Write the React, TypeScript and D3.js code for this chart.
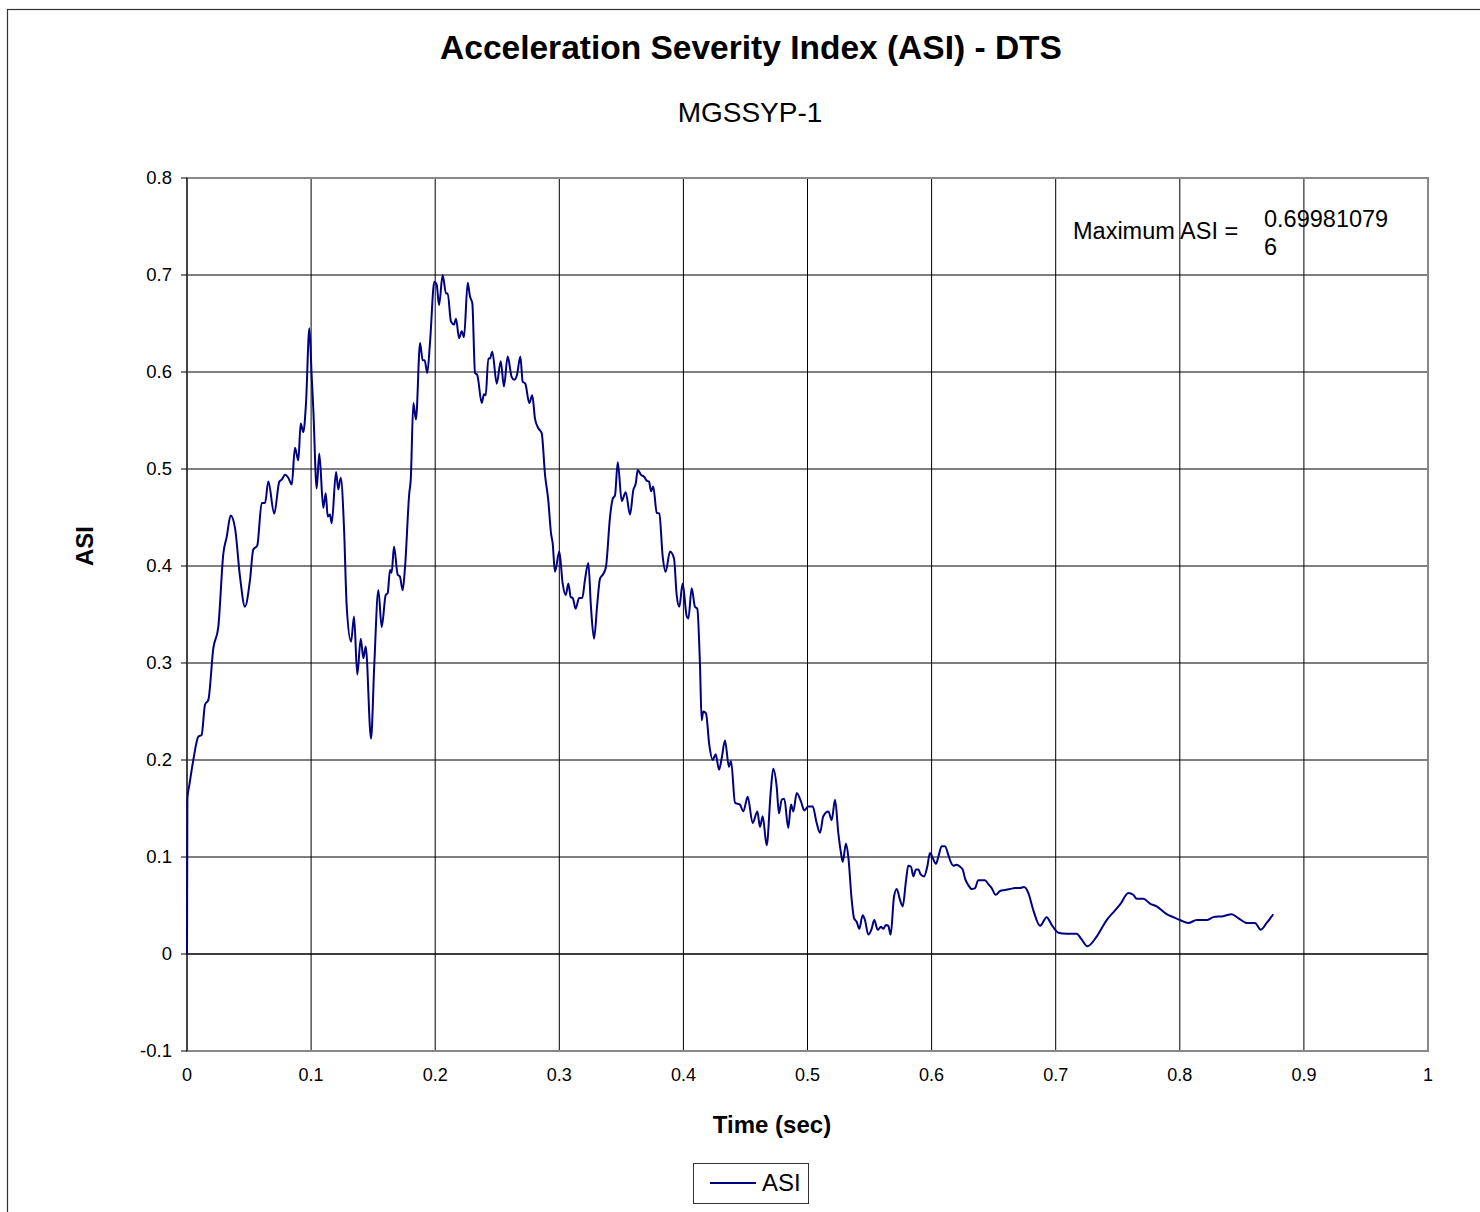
import React from "react";
import * as d3 from "d3";

const title = "Acceleration Severity Index (ASI) - DTS";
const subtitle = "MGSSYP-1";
const xTitle = "Time (sec)";
const yTitle = "ASI";
const seriesName = "ASI";
const maxLabel = "Maximum ASI =";
const maxValueLines = ["0.69981079", "6"];

const xTicks = [0, 0.1, 0.2, 0.3, 0.4, 0.5, 0.6, 0.7, 0.8, 0.9, 1];
const yTicks = [-0.1, 0, 0.1, 0.2, 0.3, 0.4, 0.5, 0.6, 0.7, 0.8];

const time = [
  0, 0.0003, 0.002, 0.0051, 0.0091, 0.0118, 0.0145, 0.0172, 0.0212, 0.0252, 0.0293, 0.032, 0.0352, 0.0387,
  0.0427, 0.0467, 0.0508, 0.0534, 0.0566, 0.0602, 0.0629, 0.0655, 0.0703, 0.0744, 0.0763, 0.079, 0.0816,
  0.0844, 0.087, 0.0897, 0.0916, 0.0937, 0.0959, 0.0986, 0.1005, 0.1018, 0.1045, 0.1066, 0.1098, 0.1118,
  0.1134, 0.1152, 0.1166, 0.1201, 0.1219, 0.1239, 0.1265, 0.1287, 0.1322, 0.1346, 0.1372, 0.14, 0.1421,
  0.144, 0.1483, 0.1509, 0.1542, 0.1569, 0.1601, 0.1617, 0.1636, 0.1649, 0.1668, 0.1698, 0.1716, 0.1738,
  0.1757, 0.1791, 0.1803, 0.1824, 0.1845, 0.1878, 0.1899, 0.1915, 0.1936, 0.1958, 0.1993, 0.2012, 0.2031,
  0.206, 0.2087, 0.2101, 0.2127, 0.2152, 0.2168, 0.2192, 0.2214, 0.2232, 0.2262, 0.228, 0.2299, 0.2321,
  0.2339, 0.2375, 0.2393, 0.2407, 0.2428, 0.2442, 0.246, 0.2496, 0.2528, 0.2554, 0.2584, 0.2616, 0.2637,
  0.2659, 0.2686, 0.2705, 0.2726, 0.2758, 0.2782, 0.2804, 0.2831, 0.2858, 0.2885, 0.2911, 0.2933, 0.2947,
  0.2965, 0.3, 0.3027, 0.3052, 0.3073, 0.3092, 0.3108, 0.3132, 0.3159, 0.3185, 0.3207, 0.3234, 0.3255,
  0.328, 0.3306, 0.3328, 0.3355, 0.3376, 0.3409, 0.343, 0.3449, 0.3471, 0.3503, 0.3535, 0.357, 0.3596,
  0.3616, 0.3632, 0.3658, 0.3683, 0.3704, 0.3723, 0.3739, 0.3757, 0.3785, 0.3806, 0.3833, 0.3857, 0.3892,
  0.3924, 0.3946, 0.3967, 0.3994, 0.4027, 0.404, 0.4067, 0.4093, 0.4112, 0.4134, 0.4147, 0.416, 0.4182,
  0.4209, 0.4236, 0.426, 0.4287, 0.4309, 0.4335, 0.4367, 0.4384, 0.4416, 0.4456, 0.4483, 0.4518, 0.4558,
  0.4596, 0.4617, 0.4639, 0.4671, 0.4703, 0.4724, 0.4752, 0.477, 0.4792, 0.4813, 0.4845, 0.4867, 0.4886,
  0.4913, 0.4948, 0.4974, 0.5006, 0.5042, 0.5074, 0.5101, 0.5127, 0.5168, 0.5195, 0.5222, 0.5248, 0.527,
  0.5284, 0.531, 0.5329, 0.5356, 0.5375, 0.5397, 0.5417, 0.5445, 0.5463, 0.549, 0.5517, 0.5538, 0.5566,
  0.5592, 0.5611, 0.5632, 0.5651, 0.567, 0.5697, 0.5719, 0.5745, 0.5767, 0.5794, 0.5812, 0.5834, 0.5853,
  0.5874, 0.5893, 0.5912, 0.5939, 0.5965, 0.5987, 0.6009, 0.6035, 0.6054, 0.6081, 0.6108, 0.6135, 0.6154,
  0.6175, 0.6202, 0.6229, 0.6251, 0.6269, 0.6296, 0.6323, 0.635, 0.6376, 0.6404, 0.643, 0.6457, 0.6484,
  0.6517, 0.6551, 0.6591, 0.6632, 0.6672, 0.6712, 0.6745, 0.6779, 0.682, 0.6874, 0.6927, 0.6968, 0.7021,
  0.7089, 0.7169, 0.7209, 0.7255, 0.733, 0.7411, 0.7478, 0.7524, 0.7585, 0.7625, 0.7653, 0.7706, 0.776,
  0.7814, 0.7894, 0.7948, 0.8002, 0.8069, 0.8136, 0.8217, 0.827, 0.8351, 0.8418, 0.8471, 0.8539, 0.8606,
  0.8652, 0.87, 0.8753,
];

const asi = [
  0, 0.16, 0.175, 0.2, 0.224, 0.226, 0.257, 0.262, 0.315, 0.337, 0.413, 0.43, 0.452, 0.439,
  0.389, 0.358, 0.386, 0.417, 0.421, 0.465, 0.465, 0.487, 0.454, 0.487, 0.489, 0.494, 0.491,
  0.484, 0.522, 0.509, 0.547, 0.538, 0.568, 0.645, 0.595, 0.561, 0.48, 0.516, 0.46, 0.475,
  0.451, 0.453, 0.444, 0.497, 0.479, 0.491, 0.44, 0.358, 0.322, 0.348, 0.288, 0.325, 0.305,
  0.317, 0.222, 0.298, 0.375, 0.337, 0.37, 0.372, 0.396, 0.393, 0.42, 0.391, 0.389, 0.375,
  0.399, 0.475, 0.489, 0.568, 0.551, 0.63, 0.612, 0.612, 0.599, 0.63, 0.693, 0.69, 0.669,
  0.7, 0.681, 0.681, 0.652, 0.649, 0.655, 0.635, 0.642, 0.636, 0.692, 0.678, 0.671, 0.599,
  0.597, 0.568, 0.577, 0.576, 0.614, 0.614, 0.621, 0.588, 0.611, 0.585, 0.616, 0.595, 0.592,
  0.597, 0.616, 0.59, 0.588, 0.568, 0.576, 0.552, 0.542, 0.537, 0.494, 0.468, 0.434, 0.423,
  0.394, 0.415, 0.382, 0.37, 0.382, 0.368, 0.367, 0.356, 0.367, 0.367, 0.386, 0.403, 0.358,
  0.325, 0.361, 0.387, 0.392, 0.399, 0.451, 0.469, 0.473, 0.507, 0.467, 0.476, 0.453, 0.478,
  0.485, 0.499, 0.494, 0.492, 0.488, 0.487, 0.477, 0.482, 0.455, 0.454, 0.41, 0.394, 0.415,
  0.408, 0.37, 0.358, 0.382, 0.348, 0.346, 0.377, 0.358, 0.356, 0.296, 0.241, 0.25, 0.248,
  0.215, 0.2, 0.206, 0.19, 0.202, 0.22, 0.193, 0.199, 0.156, 0.154, 0.147, 0.162, 0.135,
  0.147, 0.131, 0.142, 0.112, 0.166, 0.191, 0.172, 0.145, 0.159, 0.16, 0.13, 0.154, 0.147,
  0.166, 0.157, 0.148, 0.152, 0.152, 0.135, 0.125, 0.142, 0.147, 0.138, 0.159, 0.125, 0.104,
  0.095, 0.114, 0.1, 0.056, 0.037, 0.033, 0.026, 0.04, 0.035, 0.02, 0.026, 0.035, 0.025,
  0.028, 0.026, 0.03, 0.029, 0.02, 0.059, 0.067, 0.056, 0.049, 0.076, 0.091, 0.09, 0.08,
  0.087, 0.087, 0.082, 0.08, 0.09, 0.104, 0.099, 0.093, 0.1, 0.111, 0.111, 0.102, 0.095,
  0.091, 0.092, 0.09, 0.087, 0.078, 0.071, 0.067, 0.068, 0.076, 0.076, 0.076, 0.072, 0.068,
  0.061, 0.065, 0.066, 0.067, 0.068, 0.068, 0.069, 0.063, 0.045, 0.029, 0.038, 0.03, 0.022,
  0.021, 0.021, 0.015, 0.008, 0.018, 0.035, 0.045, 0.052, 0.063, 0.061, 0.057, 0.057, 0.052,
  0.049, 0.041, 0.038, 0.035, 0.032, 0.035, 0.035, 0.038, 0.039, 0.041, 0.037, 0.032, 0.032,
  0.025, 0.032, 0.041,
];

const W = 1480;
const H = 1212;
const plot = { left: 187, right: 1428, top: 178, bottom: 1051 };
const FONT = "'Liberation Sans', Arial, Helvetica, sans-serif";

export default function App() {
  const x = d3.scaleLinear().domain([0, 1]).range([plot.left, plot.right]);
  const y = d3.scaleLinear().domain([-0.1, 0.8]).range([plot.bottom, plot.top]);
  const pts: [number, number][] = time.map((t, i) => [t, asi[i]]);
  const line = d3
    .line<[number, number]>()
    .x((d) => x(d[0]))
    .y((d) => y(d[1]))
    .curve(d3.curveMonotoneX);
  const fmt = (v: number) => (Math.abs(v) < 1e-9 ? "0" : String(+v.toFixed(1)));

  return (
    <svg
      width={W}
      height={H}
      style={{ position: "absolute", left: 0, top: 0, background: "#fff" }}
      fontFamily={FONT}
    >
      <rect x={0} y={0} width={W} height={H} fill="#fff" />
      <rect x={7.5} y={9.5} width={W + 50} height={H + 50} fill="none" stroke="#333" strokeWidth={1.2} />

      <text x={751} y={59} textAnchor="middle" fontSize={33.5} fontWeight="bold" fill="#000">
        {title}
      </text>
      <text x={750} y={122} textAnchor="middle" fontSize={28} fill="#000">
        {subtitle}
      </text>

      {xTicks.slice(1, -1).map((t) => (
        <line key={"gx" + t} x1={x(t)} x2={x(t)} y1={plot.top} y2={plot.bottom} stroke="#000" strokeWidth={1} />
      ))}
      {yTicks.slice(1, -1).map((v) => (
        <line key={"gy" + v} x1={plot.left} x2={plot.right} y1={y(v)} y2={y(v)} stroke="#000" strokeWidth={1} />
      ))}
      <rect
        x={plot.left}
        y={plot.top}
        width={plot.right - plot.left}
        height={plot.bottom - plot.top}
        fill="none"
        stroke="#888"
        strokeWidth={2}
      />
      <line x1={plot.left} x2={plot.left} y1={plot.top} y2={plot.bottom} stroke="#000" strokeWidth={1} />
      {yTicks.map((v) => (
        <g key={"yt" + v}>
          <line x1={plot.left - 6} x2={plot.left} y1={y(v)} y2={y(v)} stroke="#000" strokeWidth={1} />
          <text x={plot.left - 15} y={y(v) + 6} textAnchor="end" fontSize={18.5} fill="#000">
            {fmt(v)}
          </text>
        </g>
      ))}
      <line x1={plot.left} x2={plot.right} y1={y(0)} y2={y(0)} stroke="#000" strokeWidth={1} />
      {xTicks.map((t) => (
        <text key={"xt" + t} x={x(t)} y={plot.bottom + 30} textAnchor="middle" fontSize={18} fill="#000">
          {fmt(t)}
        </text>
      ))}

      <text x={772} y={1133} textAnchor="middle" fontSize={24} fontWeight="bold" fill="#000">
        {xTitle}
      </text>
      <text
        transform={`translate(93,546) rotate(-90)`}
        textAnchor="middle"
        fontSize={24}
        fontWeight="bold"
        fill="#000"
      >
        {yTitle}
      </text>

      <path d={line(pts) || ""} fill="none" stroke="#000080" strokeWidth={2} strokeLinejoin="round" />

      <text x={1073} y={239} fontSize={23.5} fill="#000">
        {maxLabel}
      </text>
      {maxValueLines.map((s, i) => (
        <text key={s} x={1264} y={227 + i * 28} fontSize={23.5} fill="#000">
          {s}
        </text>
      ))}

      <rect x={693.5} y={1163.5} width={115} height={40} fill="#fff" stroke="#333" strokeWidth={1} />
      <line x1={710} x2={756} y1={1183} y2={1183} stroke="#000080" strokeWidth={2} />
      <text x={762} y={1191} fontSize={24} fill="#000">
        {seriesName}
      </text>
    </svg>
  );
}
